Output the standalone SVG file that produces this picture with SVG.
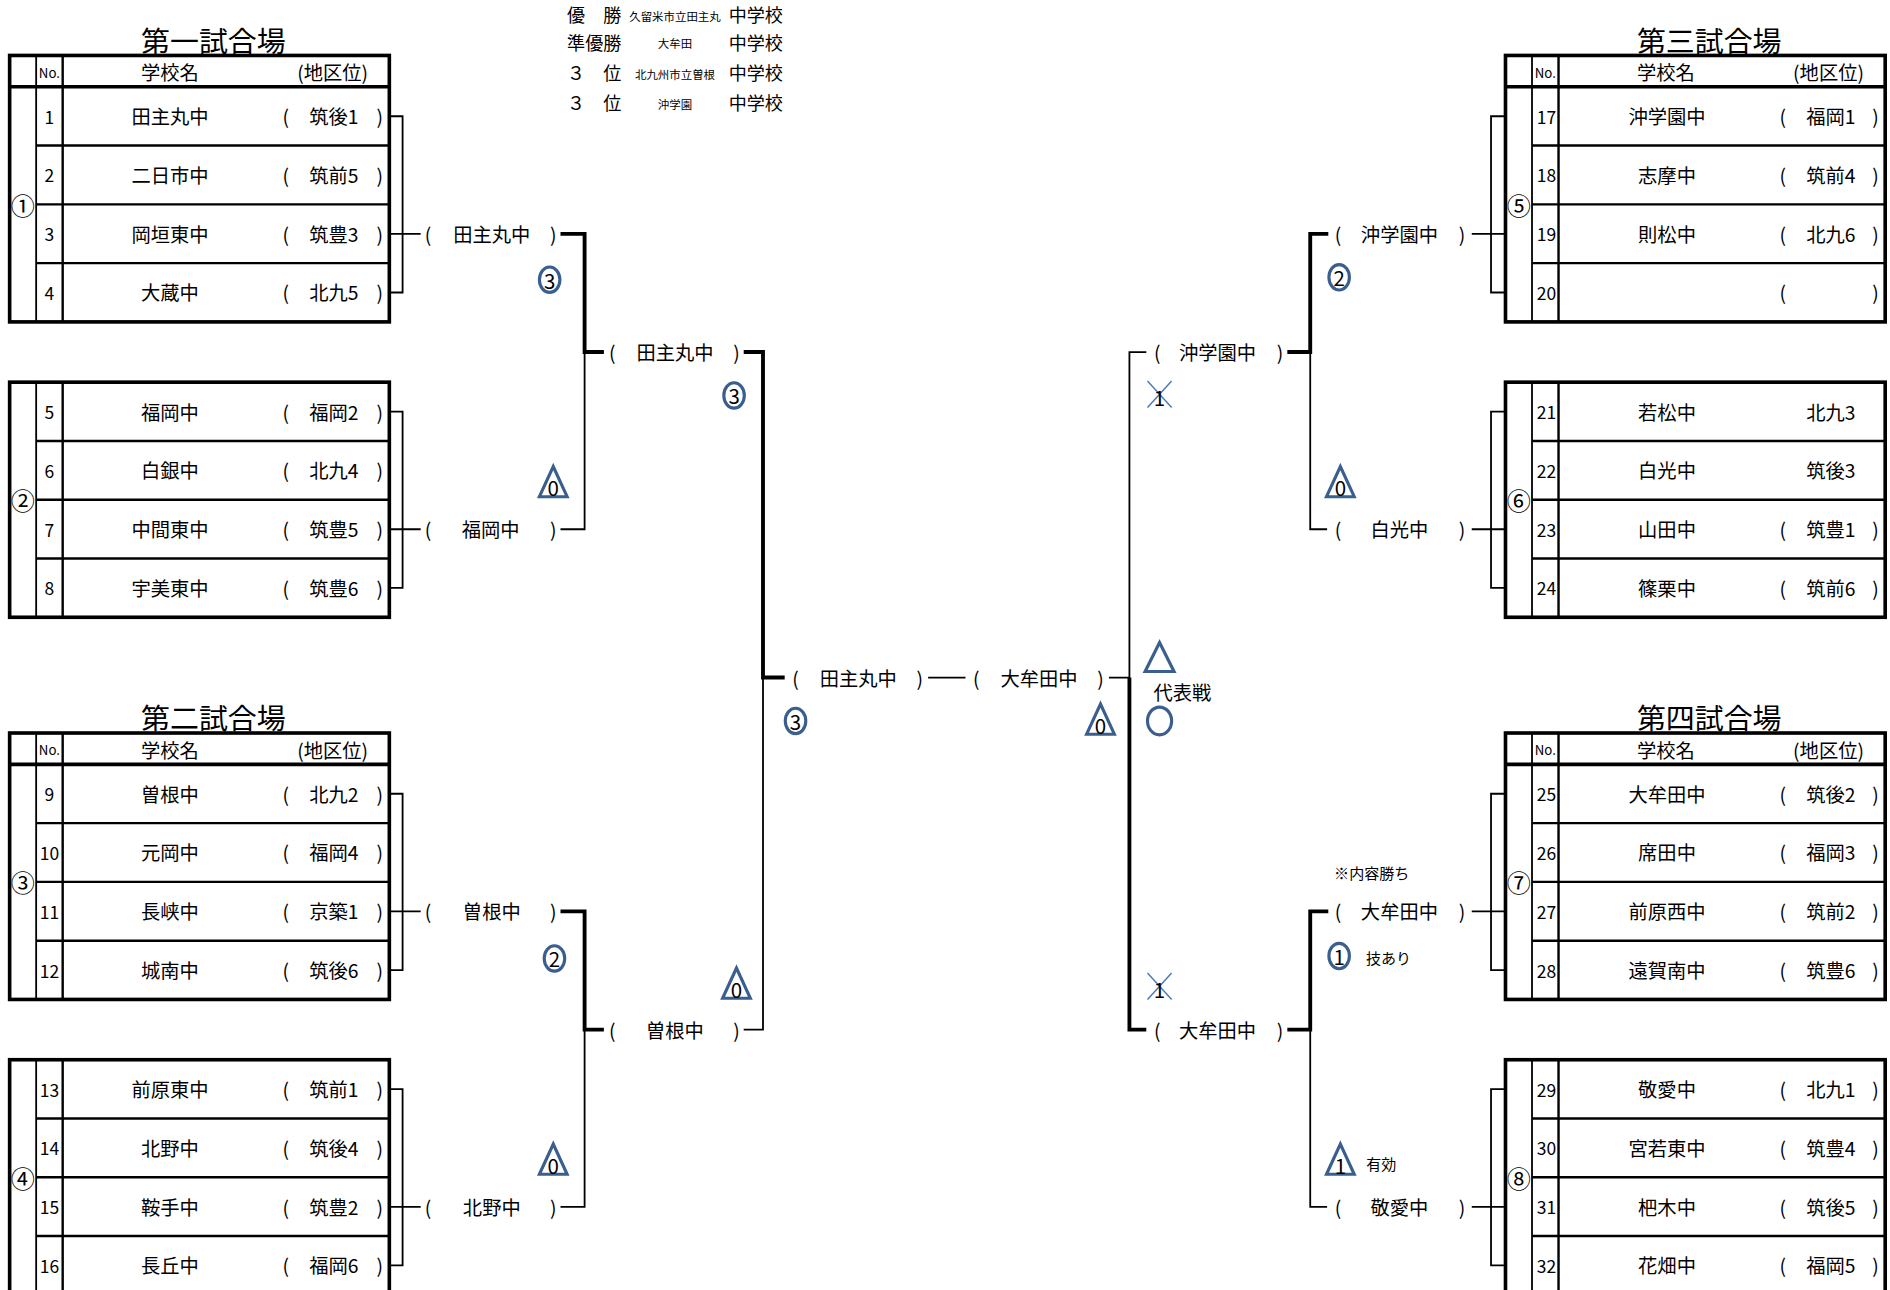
<svg xmlns="http://www.w3.org/2000/svg" xmlns:xlink="http://www.w3.org/1999/xlink" width="1890" height="1290" viewBox="0 0 1890 1290">
<style>
text{font-family:"Noto Sans CJK JP","Noto Sans CJK SC",sans-serif;fill:#000;text-anchor:middle;dominant-baseline:central}
.ttl{font-size:24px}
.hd{font-size:16px}
.no{font-size:11px}
.nm{font-size:16px}
.num{font-size:14.5px}
.grp{font-size:20px}
.lb{font-size:16px}
.res{font-size:15px}
.sm{font-size:9.5px}
.note{font-size:12.5px}
.mk{font-size:17px}
.bo{fill:none;stroke:#000;stroke-width:3}
.ro{fill:none;stroke:#000;stroke-width:2}
.co{fill:none;stroke:#000;stroke-width:1.5}
.thin{fill:none;stroke:#000;stroke-width:1.5}
.thick{fill:none;stroke:#000;stroke-width:3.2}
.blue{fill:none;stroke:#3A5F8F;stroke-width:2.6}
.xl{fill:none;stroke:#4A78B8;stroke-width:1.2}
</style>
<defs>
<g id="skH">
<rect class="bo" x="0" y="0" width="315" height="221"/>
<line class="bo" x1="0" y1="26" x2="315" y2="26"/>
<line class="co" x1="22" y1="0" x2="22" y2="221"/>
<line class="ro" x1="44" y1="0" x2="44" y2="221"/>
<line class="ro" x1="22" y1="74.75" x2="315" y2="74.75"/>
<line class="ro" x1="22" y1="123.5" x2="315" y2="123.5"/>
<line class="ro" x1="22" y1="172.25" x2="315" y2="172.25"/>
<text class="no" x="33" y="14">No.</text>
<text class="hd" x="133" y="14">学校名</text>
<text class="hd" x="268" y="14">(地区位)</text>
</g>
<g id="sk">
<rect class="bo" x="0" y="0" width="315" height="195"/>
<line class="co" x1="22" y1="0" x2="22" y2="195"/>
<line class="ro" x1="44" y1="0" x2="44" y2="195"/>
<line class="ro" x1="22" y1="48.75" x2="315" y2="48.75"/>
<line class="ro" x1="22" y1="97.5" x2="315" y2="97.5"/>
<line class="ro" x1="22" y1="146.25" x2="315" y2="146.25"/>
</g>
<ellipse id="circ" class="blue" cx="0" cy="0" rx="8.5" ry="10.5"/>
<path id="tri" class="blue" d="M-11.5,11 L0,-14 L11.5,11 Z"/>
<g id="xm"><line class="xl" x1="-10" y1="-11" x2="10" y2="11"/><line class="xl" x1="10" y1="-11" x2="-10" y2="11"/></g>
</defs>
<g transform="scale(1.20536,1.20561)">

<g id="results">
<text class="res" x="493" y="12">優　勝</text><text class="sm" x="560" y="13">久留米市立田主丸</text><text class="res" x="627" y="12">中学校</text>
<text class="res" x="493" y="35">準優勝</text><text class="sm" x="560" y="36">大牟田</text><text class="res" x="627" y="35">中学校</text>
<text class="res" x="493" y="60">３　位</text><text class="sm" x="560" y="61">北九州市立曽根</text><text class="res" x="627" y="60">中学校</text>
<text class="res" x="493" y="85">３　位</text><text class="sm" x="560" y="86">沖学園</text><text class="res" x="627" y="85">中学校</text>
</g>

<g id="table1">
<text class="ttl" x="177" y="32">第一試合場</text>
<g transform="translate(8,46)">
<use xlink:href="#skH" href="#skH"/>
<text class="grp" x="11" y="123.5">①</text>
<text class="num" x="33" y="50.4">1</text><text class="nm" x="133" y="50.4">田主丸中</text><text class="nm" x="229" y="50.4">(</text><text class="nm" x="269" y="50.4">筑後1</text><text class="nm" x="307" y="50.4">)</text>
<text class="num" x="33" y="99.1">2</text><text class="nm" x="133" y="99.1">二日市中</text><text class="nm" x="229" y="99.1">(</text><text class="nm" x="269" y="99.1">筑前5</text><text class="nm" x="307" y="99.1">)</text>
<text class="num" x="33" y="147.9">3</text><text class="nm" x="133" y="147.9">岡垣東中</text><text class="nm" x="229" y="147.9">(</text><text class="nm" x="269" y="147.9">筑豊3</text><text class="nm" x="307" y="147.9">)</text>
<text class="num" x="33" y="196.6">4</text><text class="nm" x="133" y="196.6">大蔵中</text><text class="nm" x="229" y="196.6">(</text><text class="nm" x="269" y="196.6">北九5</text><text class="nm" x="307" y="196.6">)</text>
</g>
</g>

<g id="table1b" transform="translate(8,317)">
<use xlink:href="#sk" href="#sk"/>
<text class="grp" x="11" y="97.5">②</text>
<text class="num" x="33" y="24.4">5</text><text class="nm" x="133" y="24.4">福岡中</text><text class="nm" x="229" y="24.4">(</text><text class="nm" x="269" y="24.4">福岡2</text><text class="nm" x="307" y="24.4">)</text>
<text class="num" x="33" y="73.1">6</text><text class="nm" x="133" y="73.1">白銀中</text><text class="nm" x="229" y="73.1">(</text><text class="nm" x="269" y="73.1">北九4</text><text class="nm" x="307" y="73.1">)</text>
<text class="num" x="33" y="121.9">7</text><text class="nm" x="133" y="121.9">中間東中</text><text class="nm" x="229" y="121.9">(</text><text class="nm" x="269" y="121.9">筑豊5</text><text class="nm" x="307" y="121.9">)</text>
<text class="num" x="33" y="170.6">8</text><text class="nm" x="133" y="170.6">宇美東中</text><text class="nm" x="229" y="170.6">(</text><text class="nm" x="269" y="170.6">筑豊6</text><text class="nm" x="307" y="170.6">)</text>
</g>

<g id="table2">
<text class="ttl" x="177" y="594">第二試合場</text>
<g transform="translate(8,608)">
<use xlink:href="#skH" href="#skH"/>
<text class="grp" x="11" y="123.5">③</text>
<text class="num" x="33" y="50.4">9</text><text class="nm" x="133" y="50.4">曽根中</text><text class="nm" x="229" y="50.4">(</text><text class="nm" x="269" y="50.4">北九2</text><text class="nm" x="307" y="50.4">)</text>
<text class="num" x="33" y="99.1">10</text><text class="nm" x="133" y="99.1">元岡中</text><text class="nm" x="229" y="99.1">(</text><text class="nm" x="269" y="99.1">福岡4</text><text class="nm" x="307" y="99.1">)</text>
<text class="num" x="33" y="147.9">11</text><text class="nm" x="133" y="147.9">長峡中</text><text class="nm" x="229" y="147.9">(</text><text class="nm" x="269" y="147.9">京築1</text><text class="nm" x="307" y="147.9">)</text>
<text class="num" x="33" y="196.6">12</text><text class="nm" x="133" y="196.6">城南中</text><text class="nm" x="229" y="196.6">(</text><text class="nm" x="269" y="196.6">筑後6</text><text class="nm" x="307" y="196.6">)</text>
</g>
</g>

<g id="table2b" transform="translate(8,879)">
<use xlink:href="#sk" href="#sk"/>
<text class="grp" x="11" y="97.5">④</text>
<text class="num" x="33" y="24.4">13</text><text class="nm" x="133" y="24.4">前原東中</text><text class="nm" x="229" y="24.4">(</text><text class="nm" x="269" y="24.4">筑前1</text><text class="nm" x="307" y="24.4">)</text>
<text class="num" x="33" y="73.1">14</text><text class="nm" x="133" y="73.1">北野中</text><text class="nm" x="229" y="73.1">(</text><text class="nm" x="269" y="73.1">筑後4</text><text class="nm" x="307" y="73.1">)</text>
<text class="num" x="33" y="121.9">15</text><text class="nm" x="133" y="121.9">鞍手中</text><text class="nm" x="229" y="121.9">(</text><text class="nm" x="269" y="121.9">筑豊2</text><text class="nm" x="307" y="121.9">)</text>
<text class="num" x="33" y="170.6">16</text><text class="nm" x="133" y="170.6">長丘中</text><text class="nm" x="229" y="170.6">(</text><text class="nm" x="269" y="170.6">福岡6</text><text class="nm" x="307" y="170.6">)</text>
</g>

<g id="table3">
<text class="ttl" x="1418" y="32">第三試合場</text>
<g transform="translate(1249,46)">
<use xlink:href="#skH" href="#skH"/>
<text class="grp" x="11" y="123.5">⑤</text>
<text class="num" x="34" y="50.4">17</text><text class="nm" x="134" y="50.4">沖学園中</text><text class="nm" x="230" y="50.4">(</text><text class="nm" x="270" y="50.4">福岡1</text><text class="nm" x="307" y="50.4">)</text>
<text class="num" x="34" y="99.1">18</text><text class="nm" x="134" y="99.1">志摩中</text><text class="nm" x="230" y="99.1">(</text><text class="nm" x="270" y="99.1">筑前4</text><text class="nm" x="307" y="99.1">)</text>
<text class="num" x="34" y="147.9">19</text><text class="nm" x="134" y="147.9">則松中</text><text class="nm" x="230" y="147.9">(</text><text class="nm" x="270" y="147.9">北九6</text><text class="nm" x="307" y="147.9">)</text>
<text class="num" x="34" y="196.6">20</text><text class="nm" x="230" y="196.6">(</text><text class="nm" x="307" y="196.6">)</text>
</g>
</g>

<g id="table3b" transform="translate(1249,317)">
<use xlink:href="#sk" href="#sk"/>
<text class="grp" x="11" y="97.5">⑥</text>
<text class="num" x="34" y="24.4">21</text><text class="nm" x="134" y="24.4">若松中</text><text class="nm" x="270" y="24.4">北九3</text>
<text class="num" x="34" y="73.1">22</text><text class="nm" x="134" y="73.1">白光中</text><text class="nm" x="270" y="73.1">筑後3</text>
<text class="num" x="34" y="121.9">23</text><text class="nm" x="134" y="121.9">山田中</text><text class="nm" x="230" y="121.9">(</text><text class="nm" x="270" y="121.9">筑豊1</text><text class="nm" x="307" y="121.9">)</text>
<text class="num" x="34" y="170.6">24</text><text class="nm" x="134" y="170.6">篠栗中</text><text class="nm" x="230" y="170.6">(</text><text class="nm" x="270" y="170.6">筑前6</text><text class="nm" x="307" y="170.6">)</text>
</g>

<g id="table4">
<text class="ttl" x="1418" y="594">第四試合場</text>
<g transform="translate(1249,608)">
<use xlink:href="#skH" href="#skH"/>
<text class="grp" x="11" y="123.5">⑦</text>
<text class="num" x="34" y="50.4">25</text><text class="nm" x="134" y="50.4">大牟田中</text><text class="nm" x="230" y="50.4">(</text><text class="nm" x="270" y="50.4">筑後2</text><text class="nm" x="307" y="50.4">)</text>
<text class="num" x="34" y="99.1">26</text><text class="nm" x="134" y="99.1">席田中</text><text class="nm" x="230" y="99.1">(</text><text class="nm" x="270" y="99.1">福岡3</text><text class="nm" x="307" y="99.1">)</text>
<text class="num" x="34" y="147.9">27</text><text class="nm" x="134" y="147.9">前原西中</text><text class="nm" x="230" y="147.9">(</text><text class="nm" x="270" y="147.9">筑前2</text><text class="nm" x="307" y="147.9">)</text>
<text class="num" x="34" y="196.6">28</text><text class="nm" x="134" y="196.6">遠賀南中</text><text class="nm" x="230" y="196.6">(</text><text class="nm" x="270" y="196.6">筑豊6</text><text class="nm" x="307" y="196.6">)</text>
</g>
</g>

<g id="table4b" transform="translate(1249,879)">
<use xlink:href="#sk" href="#sk"/>
<text class="grp" x="11" y="97.5">⑧</text>
<text class="num" x="34" y="24.4">29</text><text class="nm" x="134" y="24.4">敬愛中</text><text class="nm" x="230" y="24.4">(</text><text class="nm" x="270" y="24.4">北九1</text><text class="nm" x="307" y="24.4">)</text>
<text class="num" x="34" y="73.1">30</text><text class="nm" x="134" y="73.1">宮若東中</text><text class="nm" x="230" y="73.1">(</text><text class="nm" x="270" y="73.1">筑豊4</text><text class="nm" x="307" y="73.1">)</text>
<text class="num" x="34" y="121.9">31</text><text class="nm" x="134" y="121.9">杷木中</text><text class="nm" x="230" y="121.9">(</text><text class="nm" x="270" y="121.9">筑後5</text><text class="nm" x="307" y="121.9">)</text>
<text class="num" x="34" y="170.6">32</text><text class="nm" x="134" y="170.6">花畑中</text><text class="nm" x="230" y="170.6">(</text><text class="nm" x="270" y="170.6">福岡5</text><text class="nm" x="307" y="170.6">)</text>
</g>

<g id="connectors">
<path class="thin" d="M323,96.4 H334 V242.6 H323 M323,194 H349"/>
<path class="thin" d="M323,341.4 H334 V487.6 H323 M323,439 H349"/>
<path class="thin" d="M323,658.4 H334 V804.6 H323 M323,756 H349"/>
<path class="thin" d="M323,903.4 H334 V1049.6 H323 M323,1001 H349"/>
<path class="thin" d="M1249,96.4 H1237 V242.6 H1249 M1249,194 H1221"/>
<path class="thin" d="M1249,341.4 H1237 V487.6 H1249 M1249,439 H1221"/>
<path class="thin" d="M1249,658.4 H1237 V804.6 H1249 M1249,756 H1221"/>
<path class="thin" d="M1249,903.4 H1237 V1049.6 H1249 M1249,1001 H1221"/>
<path class="thick" d="M465,194 H485 V292 H501"/>
<path class="thin" d="M485,292 V439 H465"/>
<path class="thick" d="M465,756 H485 V854 H501"/>
<path class="thin" d="M485,854 V1001 H465"/>
<path class="thick" d="M617,292 H633 V562 H651"/>
<path class="thin" d="M633,562 V854 H617"/>
<path class="thin" d="M770,562 H801"/>
<path class="thin" d="M920,562 H937 V292 H951"/>
<path class="thick" d="M937,562 V854 H951"/>
<path class="thick" d="M1068,292 H1087 V194 H1102"/>
<path class="thin" d="M1087,292 V439 H1101"/>
<path class="thick" d="M1068,854 H1087 V756 H1102"/>
<path class="thin" d="M1087,854 V1001 H1101"/>
</g>

<g id="r1-tanushimaru"><text class="lb" x="355" y="194">(</text><text class="lb" x="408" y="194">田主丸中</text><text class="lb" x="459" y="194">)</text></g>
<g id="r1-fukuoka"><text class="lb" x="355" y="439">(</text><text class="lb" x="407" y="439">福岡中</text><text class="lb" x="459" y="439">)</text></g>
<g id="r1-sone"><text class="lb" x="355" y="756">(</text><text class="lb" x="408" y="756">曽根中</text><text class="lb" x="459" y="756">)</text></g>
<g id="r1-kitano"><text class="lb" x="355" y="1001">(</text><text class="lb" x="408" y="1001">北野中</text><text class="lb" x="459" y="1001">)</text></g>
<g id="r2-tanushimaru"><text class="lb" x="508" y="292">(</text><text class="lb" x="560" y="292">田主丸中</text><text class="lb" x="611" y="292">)</text></g>
<g id="r2-sone"><text class="lb" x="508" y="854">(</text><text class="lb" x="560" y="854">曽根中</text><text class="lb" x="611" y="854">)</text></g>
<g id="f-tanushimaru"><text class="lb" x="660" y="562">(</text><text class="lb" x="712" y="562">田主丸中</text><text class="lb" x="763" y="562">)</text></g>
<g id="f-omuta"><text class="lb" x="810" y="562">(</text><text class="lb" x="862" y="562">大牟田中</text><text class="lb" x="913" y="562">)</text></g>
<g id="r2-okigakuen"><text class="lb" x="960" y="292">(</text><text class="lb" x="1010" y="292">沖学園中</text><text class="lb" x="1062" y="292">)</text></g>
<g id="r2-omuta"><text class="lb" x="960" y="854">(</text><text class="lb" x="1010" y="854">大牟田中</text><text class="lb" x="1062" y="854">)</text></g>
<g id="r1-okigakuen"><text class="lb" x="1110" y="194">(</text><text class="lb" x="1161" y="194">沖学園中</text><text class="lb" x="1213" y="194">)</text></g>
<g id="r1-hakko"><text class="lb" x="1110" y="439">(</text><text class="lb" x="1161" y="439">白光中</text><text class="lb" x="1213" y="439">)</text></g>
<g id="r1-omuta"><text class="lb" x="1110" y="756">(</text><text class="lb" x="1161" y="756">大牟田中</text><text class="lb" x="1213" y="756">)</text></g>
<g id="r1-keiai"><text class="lb" x="1110" y="1001">(</text><text class="lb" x="1161" y="1001">敬愛中</text><text class="lb" x="1213" y="1001">)</text></g>

<g id="marks">
<g transform="translate(456,232)"><use xlink:href="#circ" href="#circ"/><text class="mk" x="0" y="0">3</text></g>
<g transform="translate(459,401)"><use xlink:href="#tri" href="#tri"/><text class="mk" x="0" y="3">0</text></g>
<g transform="translate(609,328)"><use xlink:href="#circ" href="#circ"/><text class="mk" x="0" y="0">3</text></g>
<g transform="translate(460,795)"><use xlink:href="#circ" href="#circ"/><text class="mk" x="0" y="0">2</text></g>
<g transform="translate(459,963)"><use xlink:href="#tri" href="#tri"/><text class="mk" x="0" y="3">0</text></g>
<g transform="translate(611,817)"><use xlink:href="#tri" href="#tri"/><text class="mk" x="0" y="3">0</text></g>
<g transform="translate(660,598)"><use xlink:href="#circ" href="#circ"/><text class="mk" x="0" y="0">3</text></g>
<g transform="translate(913,598)"><use xlink:href="#tri" href="#tri"/><text class="mk" x="0" y="3">0</text></g>
<g transform="translate(1111,230)"><use xlink:href="#circ" href="#circ"/><text class="mk" x="0" y="0">2</text></g>
<g transform="translate(1112,401)"><use xlink:href="#tri" href="#tri"/><text class="mk" x="0" y="3">0</text></g>
<g transform="translate(962,327)"><use xlink:href="#xm" href="#xm"/><text class="mk" x="0" y="2">1</text></g>
<g transform="translate(962,818)"><use xlink:href="#xm" href="#xm"/><text class="mk" x="0" y="2">1</text></g>
<g transform="translate(1111,793)"><use xlink:href="#circ" href="#circ"/><text class="mk" x="0" y="0">1</text></g>
<text class="note" x="1152" y="794">技あり</text>
<g transform="translate(1112,963)"><use xlink:href="#tri" href="#tri"/><text class="mk" x="0" y="3">1</text></g>
<text class="note" x="1146" y="965">有効</text>
<text class="note" x="1138" y="724">※内容勝ち</text>
<path class="blue" d="M950,557 L962,533 L974,557 Z"/>
<text class="lb" x="981" y="574">代表戦</text>
<ellipse class="blue" cx="962" cy="598" rx="10" ry="11.5"/>
</g>

</g>
</svg>
